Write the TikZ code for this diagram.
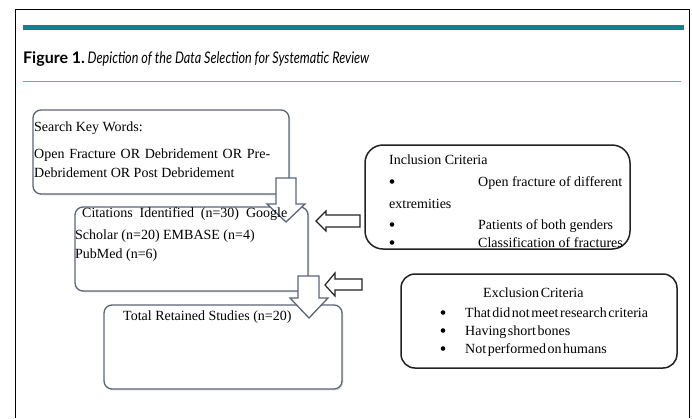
\documentclass[tikz,border=0pt]{standalone}
\usepackage{fontspec}
\setmainfont{Liberation Serif}
\newfontfamily\capfont{Lato}
\newfontfamily\tightserif{Liberation Serif}[WordSpace=0.45]
\usetikzlibrary{calc,shadows}

\definecolor{tealbar}{HTML}{13808A}
\definecolor{tealrule}{HTML}{6AA9AE}
\definecolor{slate}{HTML}{5B6577}
\definecolor{inkdark}{HTML}{222222}

\tikzset{
  flowbox/.style={draw=slate, line width=1.3pt, rounded corners=8pt, fill=white,
    inner sep=0pt, drop shadow={shadow xshift=1.3pt, shadow yshift=-1.3pt,
    fill=slate!22, opacity=1}},
  critbox/.style={draw=inkdark, line width=1.5pt, fill=white, inner sep=0pt},
  downblk/.style={draw=slate, line width=1.3pt, fill=white, line join=miter},
  leftblk/.style={draw=inkdark, line width=1.2pt, fill=white, line join=miter},
  txt/.style={anchor=base west, inner sep=0pt, font=\fontsize{14}{17}\selectfont},
  dot/.style={circle, fill=black, inner sep=0pt, minimum size=4.6pt},
}

\begin{document}
\begin{tikzpicture}[x=1pt, y=-1pt]
\useasboundingbox (0,0) rectangle (692,418);
\fill[white] (0,0) rectangle (692,418);

% outer frame, open at the bottom
\draw[black, line width=1pt] (15,418) -- (15,9) -- (689,9) -- (689,418);

% heading rules and caption
\draw[tealbar, line width=4.5pt] (23,27.5) -- (684,27.5);
\draw[tealrule, line width=1pt] (23,81) -- (681,81);
\node[anchor=base west, inner sep=0pt] (cap) at (23,63)
  {\capfont\fontsize{16}{19}\selectfont\textbf{Figure 1.}\,\scalebox{0.79}[1]{\itshape Depiction of the Data Selection for Systematic Review}};

% flow boxes
\node[flowbox, minimum width=256pt, minimum height=84pt] (search) at (161,152) {};
\node[flowbox, minimum width=233pt, minimum height=84pt] (cites) at (191.5,249) {};
\node[flowbox, minimum width=238pt, minimum height=84pt] (total) at (223,347) {};

% criteria boxes
\node[critbox, rounded corners=18pt, minimum width=265pt, minimum height=104pt] (incl) at (497.5,197) {};
\node[critbox, rounded corners=14pt, minimum width=276pt, minimum height=94pt] (excl) at (539,321) {};

% block arrows between the boxes
\coordinate (d1) at (286,222);
\coordinate (d2) at (309,318);
\coordinate (l1) at (316,221);
\coordinate (l2) at (325,285);
\draw[downblk] (d1) -- ++(-19,-18) -- ++(9,0) -- ++(0,-26) -- ++(20,0) -- ++(0,26) -- ++(9,0) -- cycle;
\draw[downblk] (d2) -- ++(-19,-20) -- ++(8,0) -- ++(0,-22) -- ++(21,0) -- ++(0,22) -- ++(9,0) -- cycle;
\draw[leftblk] (l1) -- ++(10,-10) -- ++(0,4) -- ++(34,0) -- ++(0,12) -- ++(-34,0) -- ++(0,4) -- cycle;
\draw[leftblk] (l2) -- ++(10,-12) -- ++(0,6) -- ++(27,0) -- ++(0,11) -- ++(-27,0) -- ++(0,6) -- cycle;

% search box text
\node[txt] (s1) at (34,131) {Search Key Words:};
\node[txt] (s2) at (34,158) {\makebox[236pt][s]{Open Fracture OR Debridement OR Pre-}};
\node[txt] (s3) at (34,177) {Debridement OR Post Debridement};

% citations box text
\node[txt] (c1) at (82,217) {\makebox[205pt][s]{Citations Identified (n=30) Google}};
\node[txt] (c2) at (75,239) {Scholar (n=20) EMBASE (n=4)};
\node[txt] (c3) at (75,258) {PubMed (n=6)};

% retained studies text
\node[txt] (t1) at (123,320) {Total Retained Studies (n=20)};

% inclusion criteria text
\node[txt] (i0) at (389,164) {Inclusion Criteria};
\node[dot] (ib1) at (392,181.5) {};
\node[txt] (i1) at (478,186) {Open fracture of different};
\node[txt] (i1b) at (389,208) {extremities};
\node[dot] (ib2) at (392,224.5) {};
\node[txt] (i2) at (478,229) {Patients of both genders};
\node[dot] (ib3) at (392,242.5) {};
\node[txt] (i3) at (478,247) {Classification of fractures};

% exclusion criteria text
\begin{scope}[txt/.append style={font=\tightserif\fontsize{14}{17}\selectfont}]
\node[txt] (e0) at (483,297) {Exclusion Criteria};
\node[dot] (eb1) at (443,312.5) {};
\node[txt] (e1) at (465,317) {That did not meet research criteria};
\node[dot] (eb2) at (443,330.5) {};
\node[txt] (e2) at (465,335) {Having short bones};
\node[dot] (eb3) at (443,348.5) {};
\node[txt] (e3) at (465,353) {Not performed on humans};
\end{scope}
\end{tikzpicture}
\end{document}
